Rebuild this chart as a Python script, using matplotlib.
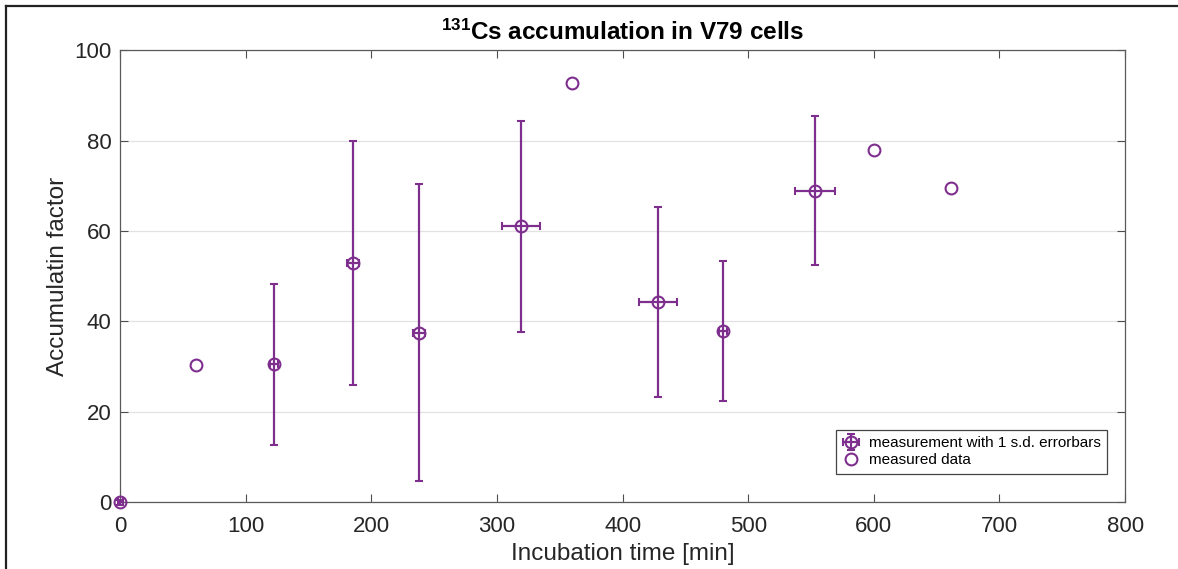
import matplotlib
matplotlib.use("Agg")
import matplotlib.pyplot as plt
from matplotlib.lines import Line2D

plt.rcParams['font.family'] = ['Liberation Sans', 'DejaVu Sans']
plt.rcParams['mathtext.fontset'] = 'custom'
plt.rcParams['mathtext.rm'] = 'Liberation Sans'
plt.rcParams['mathtext.bf'] = 'Liberation Sans:bold'

# measurements with 1 s.d. errorbars
err_time = [0, 122.5, 185.4, 238.0, 318.8, 428.3, 480.0, 553.1]
err_value = [0, 30.5, 52.9, 37.5, 61.0, 44.3, 37.9, 68.9]
err_time_sd = [2, 3, 5, 5, 15.1, 15.0, 3, 15.7]
err_value_sd = [0.5, 17.7, 26.9, 32.8, 23.3, 21.0, 15.5, 16.5]

# measured data without errorbars
meas_time = [60.5, 359.8, 600.5, 661.5]
meas_value = [30.3, 92.6, 78.0, 69.4]

purple = '#7E2F8E'

fig = plt.figure(figsize=(11.78, 5.69), dpi=100)
ax = fig.add_axes([0.1019, 0.1169, 0.8532, 0.7952])

eb = ax.errorbar(err_time, err_value, yerr=err_value_sd, xerr=err_time_sd,
                 fmt='o', color=purple, mfc='none', mec=purple, ms=8.5, mew=1.5,
                 elinewidth=1.6, capsize=3, capthick=1.6,
                 label='measurement with 1 s.d. errorbars', zorder=3)
for art in eb.lines[0:1] + tuple(eb.lines[1]) + tuple(eb.lines[2]):
    art.set_clip_on(False)
md, = ax.plot(meas_time, meas_value, 'o', color=purple, mfc='none', ms=8.5, mew=1.5,
              linestyle='none', label='measured data', zorder=3)

ax.set_xlim(0, 800)
ax.set_ylim(0, 100)
ax.set_xticks(range(0, 801, 100))
ax.set_yticks(range(0, 101, 20))
ax.grid(axis='y', color='#e2e2e2', linewidth=0.9)
ax.set_axisbelow(True)
ax.tick_params(direction='in', length=6, width=0.8, colors='#4d4d4d',
               labelcolor='#262626', labelsize=16, top=True, right=True)
ax.tick_params(axis='x', pad=10)
ax.tick_params(axis='y', pad=6)
for s in ax.spines.values():
    s.set_color('#5a5a5a')
    s.set_linewidth(0.9)

ax.set_xlabel('Incubation time [min]', fontsize=17.5, color='#262626', labelpad=4)
ax.set_ylabel('Accumulatin factor', fontsize=17.5, color='#262626', labelpad=4)
ax.set_title(r'$\mathbf{^{131}}$Cs accumulation in V79 cells', fontsize=17.5,
             fontweight='bold', pad=7)

leg = ax.legend([eb, md], ['measurement with 1 s.d. errorbars', 'measured data'],
                loc='lower right', fontsize=11, fancybox=False, framealpha=1,
                edgecolor='#444444', borderpad=0.4, handletextpad=0.6,
                handlelength=1.2, labelspacing=0.2,
                bbox_to_anchor=(0.99, 0.047))
leg.get_frame().set_linewidth(0.9)

# outer figure frame (left and top edges)
fig.add_artist(Line2D([6 / 1178, 6 / 1178], [0, 1 - 6 / 569], transform=fig.transFigure,
                      color='#222222', linewidth=1.6))
fig.add_artist(Line2D([6 / 1178, 1], [1 - 6 / 569, 1 - 6 / 569], transform=fig.transFigure,
                      color='#222222', linewidth=1.6))

fig.savefig('out.png', dpi=100)
